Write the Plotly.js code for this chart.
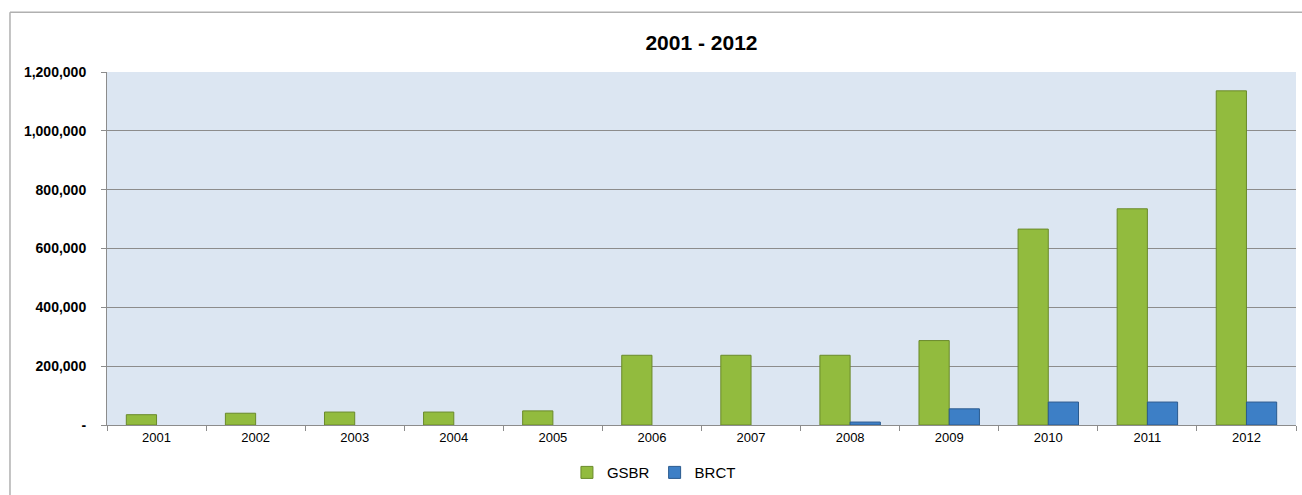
<!DOCTYPE html>
<html>
<head>
<meta charset="utf-8">
<script src="https://cdn.plot.ly/plotly-3.0.1.min.js"></script>
<style>html,body{margin:0;padding:0;background:#fff;}#chart{width:1302px;height:495px;}</style>
</head>
<body>
<div id="chart"></div>
<script>
const years = ["2001","2002","2003","2004","2005","2006","2007","2008","2009","2010","2011","2012"];
const gsbr = [35000, 40000, 44000, 44000, 48000, 237000, 237000, 237000, 287000, 666000, 735000, 1136000];
const brct = [null, null, null, null, null, null, null, 10000, 55000, 78000, 78000, 78000];
const yTickVals = [0, 200000, 400000, 600000, 800000, 1000000, 1200000];
const yTickText = ["-", "200,000", "400,000", "600,000", "800,000", "1,000,000", "1,200,000"];

const traces = [
  {type: "bar", name: "GSBR", x: years, y: gsbr,
   marker: {color: "#92bb3e", line: {color: "#6a8a2a", width: 1}}},
  {type: "bar", name: "BRCT", x: years, y: brct,
   marker: {color: "#3d7fc6", line: {color: "#2a5a8e", width: 1}}}
];

const layout = {
  width: 1302, height: 495,
  margin: {l: 107, r: 6, t: 72, b: 68},
  paper_bgcolor: "#ffffff",
  plot_bgcolor: "#dce6f2",
  font: {family: "Liberation Sans, Arial, sans-serif", color: "#000"},
  title: {text: "<b>2001 - 2012</b>", font: {size: 21, color: "#000"}, x: 0.5, xref: "paper", y: 0.913, yanchor: "middle"},
  barmode: "group",
  bargap: 0.39,
  bargroupgap: 0,
  showlegend: true,
  legend: {orientation: "h", x: 0.46, xanchor: "center", y: -0.135, yanchor: "middle",
           font: {size: 15}, itemwidth: 30, traceorder: "normal", itemclick: false},
  xaxis: {type: "category", showgrid: false, showline: true, linecolor: "#8c8c8c", linewidth: 1,
          ticks: "outside", ticklen: 5, tickcolor: "#8c8c8c", tickson: "boundaries",
          tickfont: {size: 13}, zeroline: false, fixedrange: true},
  yaxis: {range: [0, 1200000], tickvals: yTickVals, ticktext: yTickText,
          showgrid: true, gridcolor: "#8c8c8c", gridwidth: 1,
          showline: true, linecolor: "#8c8c8c", linewidth: 1,
          ticks: "outside", ticklen: 5, tickcolor: "#8c8c8c", ticklabelstandoff: 12,
          tickfont: {size: 14, weight: "bold"}, zeroline: false, fixedrange: true},
  shapes: [
    {type: "line", xref: "paper", yref: "paper", x0: -0.0816, x1: -0.0816, y0: -0.3, y1: 1.169,
     line: {color: "#b0b0b0", width: 1.5}},
    {type: "line", xref: "paper", yref: "paper", x0: -0.0816, x1: 1.1, y0: 1.169, y1: 1.169,
     line: {color: "#b0b0b0", width: 1.5}}
  ]
};

Plotly.newPlot("chart", traces, layout, {displayModeBar: false, staticPlot: true});
</script>
</body>
</html>
